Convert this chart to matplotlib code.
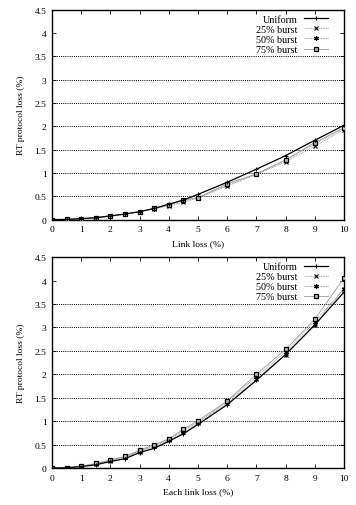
import numpy as np
import matplotlib
matplotlib.use("Agg")
import matplotlib.pyplot as plt

plt.rcParams['font.family'] = ['Liberation Serif', 'DejaVu Serif']
plt.rcParams['font.size'] = 6.8

loss = [0, 0.5, 1, 1.5, 2, 2.5, 3, 3.5, 4, 4.5, 5, 6, 7, 8, 9, 10]

# top panel: link loss
top_uniform = [0, 0.005, 0.02, 0.04, 0.08, 0.12, 0.17, 0.24, 0.33, 0.42, 0.54, 0.80, 1.08, 1.37, 1.70, 2.02]
top_b25 = [0, 0.005, 0.02, 0.04, 0.07, 0.11, 0.17, 0.23, 0.30, 0.37, 0.46, 0.72, 0.97, 1.24, 1.57, 1.93]
top_b50 = [0, 0.005, 0.02, 0.04, 0.08, 0.12, 0.17, 0.23, 0.31, 0.40, 0.47, 0.74, 0.97, 1.27, 1.62, 1.96]
top_b75 = [0, 0.005, 0.02, 0.04, 0.08, 0.12, 0.17, 0.24, 0.32, 0.42, 0.47, 0.77, 0.98, 1.28, 1.65, 1.97]

# bottom panel: each link loss
bot_uniform = [0, 0.005, 0.03, 0.07, 0.14, 0.20, 0.33, 0.42, 0.57, 0.73, 0.93, 1.35, 1.87, 2.42, 3.05, 3.75]
bot_b25 = [0, 0.01, 0.04, 0.09, 0.16, 0.23, 0.35, 0.46, 0.59, 0.76, 0.96, 1.38, 1.90, 2.42, 3.06, 3.82]
bot_b50 = [0, 0.01, 0.04, 0.09, 0.17, 0.24, 0.36, 0.48, 0.61, 0.80, 0.98, 1.41, 1.95, 2.48, 3.12, 3.82]
bot_b75 = [0, 0.01, 0.04, 0.10, 0.17, 0.25, 0.38, 0.50, 0.62, 0.83, 1.01, 1.43, 2.00, 2.53, 3.17, 4.05]

labels = ['Uniform', '25% burst', '50% burst', '75% burst']
xticks = list(range(0, 11))
yticks = [0, 0.5, 1, 1.5, 2, 2.5, 3, 3.5, 4, 4.5]
ytick_labels = ['0', '0.5', '1', '1.5', '2', '2.5', '3', '3.5', '4', '4.5']
grid_levels = [0.5, 1, 1.5, 2, 2.5, 3, 3.5]

fig = plt.figure(figsize=(3.56, 5.06), dpi=100)
ax1 = fig.add_axes([0.146, 0.564, 0.820, 0.415])
ax2 = fig.add_axes([0.146, 0.073, 0.820, 0.417])


def draw_panel(ax, series, xlabel):
    for g in grid_levels:
        ax.axhline(g, color='black', linestyle=(0, (1, 1.2)), linewidth=0.7, zorder=1)
    uni, b25, b50, b75 = series
    ax.plot(loss, uni, color='black', linewidth=0.9, marker='+', markersize=3.5,
            markeredgewidth=0.8, label=labels[0], zorder=5)
    ax.plot(loss, b25, color='#888888', linewidth=0.6, linestyle=(0, (1, 1)),
            marker='x', markersize=3, markeredgewidth=0.8, markeredgecolor='black',
            label=labels[1], zorder=4)
    ax.plot(loss, b50, color='#888888', linewidth=0.6, linestyle=(0, (1, 1)),
            marker=(6, 2, 0), markersize=3.5, markeredgewidth=0.8, markeredgecolor='black',
            label=labels[2], zorder=4)
    ax.plot(loss, b75, color='#999999', linewidth=0.6,
            marker='s', markersize=3, markeredgewidth=0.9, markeredgecolor='black',
            markerfacecolor='#bbbbbb', label=labels[3], zorder=4)
    ax.set_xlim(0, 10)
    ax.set_ylim(0, 4.5)
    ax.set_xticks(xticks)
    ax.set_yticks(yticks)
    ax.set_yticklabels(ytick_labels)
    ax.tick_params(direction='in', top=True, right=True, length=3, width=0.6, pad=4)
    for s in ax.spines.values():
        s.set_linewidth(1.0)
    ax.set_xlabel(xlabel, labelpad=4)
    ax.set_ylabel('RT protocol loss (%)', labelpad=7)
    leg = ax.legend(loc='upper right', bbox_to_anchor=(0.97, 1.01), frameon=False,
                    markerfirst=False, handlelength=2.4, handletextpad=0.6,
                    labelspacing=0.1, borderpad=0.2, fontsize=7.3)
    return leg


draw_panel(ax1, (top_uniform, top_b25, top_b50, top_b75), 'Link loss (%)')
draw_panel(ax2, (bot_uniform, bot_b25, bot_b50, bot_b75), 'Each link loss (%)')

fig.savefig('out.png', dpi=100)
